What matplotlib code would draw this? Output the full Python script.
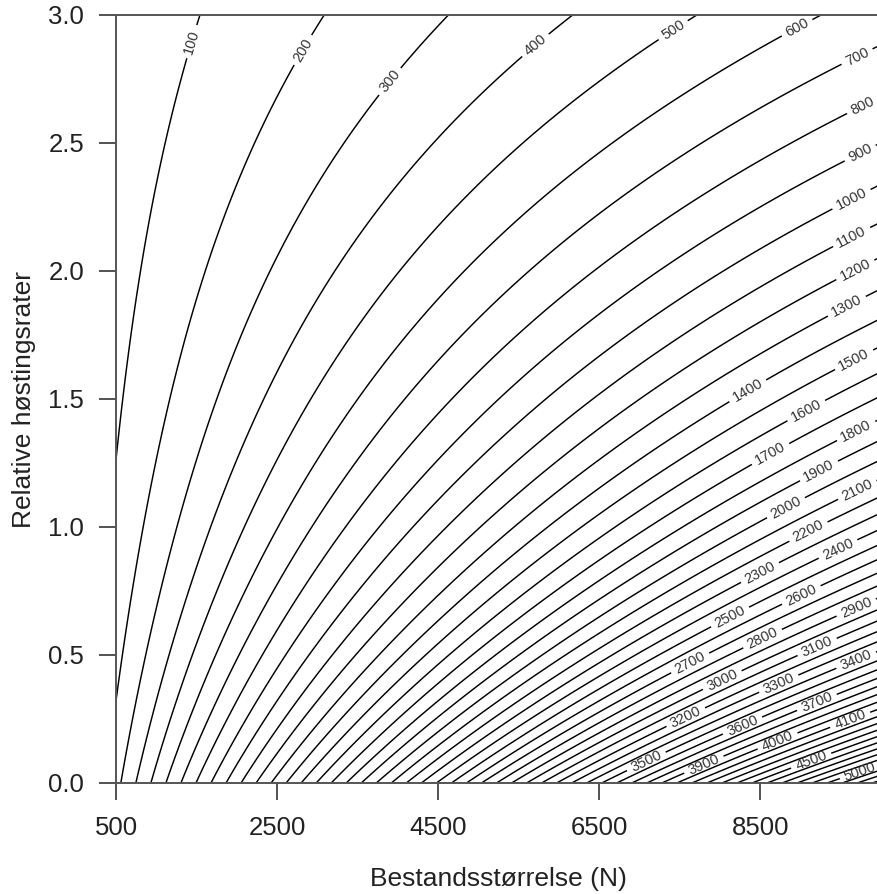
import numpy as np
import matplotlib
matplotlib.use("Agg")
import matplotlib.pyplot as plt

h_read = [0.0, 0.078, 0.168, 0.246, 0.357, 0.469, 0.559, 0.676, 0.82, 0.969,
          1.137, 1.31, 1.45, 1.645, 1.86, 2.13, 2.29, 2.46, 2.64, 2.836, 3.0]
share_read = [0.533, 0.497, 0.459, 0.423, 0.400, 0.352, 0.328, 0.299, 0.271, 0.241,
              0.216, 0.200, 0.176, 0.155, 0.136, 0.114, 0.104, 0.0924, 0.0818, 0.0721, 0.065]

levels = list(range(100, 5400, 100))

# label positions (level, N, h) as they sit in the chart
lab_level = [100, 200, 300, 400, 500, 600, 700, 800, 900, 1000, 1100, 1200, 1300,
             1400, 1500, 1600, 1700, 1800, 1900, 2000, 2100, 2200, 2300, 2400,
             2500, 2600, 2700, 2800, 2900, 3000, 3100, 3200, 3300, 3400, 3500,
             3600, 3700, 3900, 4000, 4100, 4500, 5000]
lab_N = [1440, 2823, 3879, 5705, 7419, 8960, 9705, 9780, 9742, 9618, 9640, 9705, 9580,
         8340, 9680, 9080, 8620, 9705, 9245, 8836, 9717, 9120, 8500, 9457,
         8127, 9022, 7630, 8537, 9705, 8040, 9208, 7593, 8748, 9705, 7096,
         8276, 9208, 7792, 8711, 9618, 9120, 9742]
lab_h = [2.896, 2.863, 2.746, 2.883, 2.941, 2.949, 2.836, 2.64, 2.46, 2.29, 2.13, 1.99, 1.86,
         1.535, 1.645, 1.45, 1.29, 1.367, 1.21, 1.066, 1.137, 0.969, 0.82, 0.92,
         0.648, 0.727, 0.469, 0.559, 0.676, 0.395, 0.531, 0.246, 0.375, 0.469, 0.078,
         0.227, 0.312, 0.078, 0.168, 0.246, 0.098, 0.043]

xticks = [500, 2500, 4500, 6500, 8500]
yticks = [0.0, 0.5, 1.0, 1.5, 2.0, 2.5, 3.0]

plt.rcParams['font.family'] = ['Liberation Sans', 'DejaVu Sans']

# smooth the read-off shares (least squares on log scale)
coef = np.polyfit(h_read, np.log(share_read), 4)
N = np.linspace(500, 10000, 500)
h = np.linspace(0, 3, 400)
share = np.exp(np.polyval(coef, h))
Z = share[:, None] * N[None, :]

fig = plt.figure(figsize=(8.77, 8.94), dpi=100)
ax = fig.add_axes([116/877, 111/894, 765/877, 768/894])

plain = [lv for lv in levels if lv not in lab_level]
ax.contour(N, h, Z, levels=plain, colors='black', linewidths=1.05)
for lv, xn, yh in zip(lab_level, lab_N, lab_h):
    cs = ax.contour(N, h, Z, levels=[lv], colors='black', linewidths=1.05)
    ax.clabel(cs, manual=[(xn, yh)], inline=True, fmt='%d',
              fontsize=10.5, inline_spacing=5, colors='#333333')

ax.set_xlim(500, 10000)
ax.set_ylim(0, 3)
ax.set_xticks(xticks)
ax.set_xticklabels([str(t) for t in xticks])
ax.set_yticks(yticks)
ax.set_yticklabels(['%.1f' % t for t in yticks])
ax.tick_params(length=12, width=1.3, color='#444444', labelsize=18.5, labelcolor='#222222')
ax.tick_params(axis='x', pad=12)
ax.tick_params(axis='y', pad=11)
for s in ax.spines.values():
    s.set_color('#555555')
    s.set_linewidth(1.4)

ax.set_xlabel('Bestandsstørrelse (N)', fontsize=19, color='#222222')
ax.set_ylabel('Relative høstingsrater', fontsize=19, color='#222222')
ax.xaxis.set_label_coords(0.5, -0.110)
ax.yaxis.set_label_coords(-0.104, 0.5)

fig.savefig('out.png', dpi=100)
